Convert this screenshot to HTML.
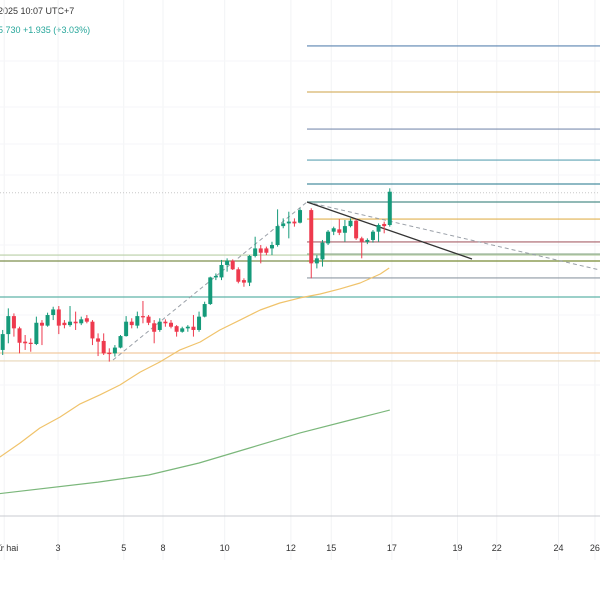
<!DOCTYPE html>
<html><head><meta charset="utf-8"><style>
html,body{margin:0;padding:0;background:#fff;width:600px;height:600px;overflow:hidden}
svg{display:block;font-family:"Liberation Sans","Noto Sans CJK SC",sans-serif}
</style></head><body>
<svg id="chart" width="600" height="600">
<text x="-2" y="14" font-size="9" fill="#333">2025 10:07 UTC+7</text>
<text x="-2" y="33" font-size="9" fill="#26a69a">5.730  +1.935 (+3.03%)</text>
</svg>
<script>
const opens  = [56.90,57.78,58.78,58.10,57.36,57.30,57.23,58.41,58.25,58.84,59.15,58.41,58.28,58.47,58.38,58.66,58.47,57.54,57.40,56.75,56.71,57.03,57.67,58.47,58.25,58.78,58.75,58.38,58.01,58.47,58.41,58.22,57.91,58.10,58.19,58.01,58.75,59.45,60.93,60.93,61.62,61.86,61.38,60.78,60.64,62.12,62.54,62.54,62.54,62.73,63.78,63.93,64.03,63.97,64.67,61.71,61.93,62.82,63.47,63.60,63.41,63.78,64.08,63.10,62.91,63.01,63.47,63.90,63.84];
const highs  = [58.01,59.21,58.93,58.19,57.73,57.54,58.75,58.56,58.97,59.30,59.34,58.56,59.34,59.03,58.75,58.84,58.56,57.82,57.82,56.99,57.17,57.73,58.78,58.66,59.03,59.62,58.84,58.56,58.66,58.60,58.56,58.28,58.19,58.28,58.84,59.03,59.58,60.97,61.15,61.90,61.99,61.93,61.49,60.88,62.17,63.19,62.73,62.64,62.91,64.71,64.21,64.58,64.21,64.77,64.77,62.17,63.01,63.56,63.75,64.16,64.12,64.21,64.16,63.19,63.10,63.56,63.93,64.03,65.88];
const lows   = [56.62,57.27,57.64,56.71,56.90,56.80,57.17,57.17,58.19,58.56,57.78,58.10,58.19,58.01,58.28,58.38,57.17,56.56,56.62,56.25,56.53,56.99,57.64,58.10,58.10,58.38,58.28,57.27,57.91,58.19,58.10,57.64,57.86,57.91,57.64,57.91,58.71,59.40,60.78,60.78,61.25,61.34,60.60,60.41,60.45,62.04,61.71,62.17,62.17,62.64,63.66,63.10,63.75,63.93,60.88,61.43,61.53,62.73,63.28,63.28,62.91,63.71,63.01,61.99,62.78,62.86,62.91,63.38,63.75];
const closes = [57.78,58.78,58.10,57.30,57.27,57.23,58.41,58.25,58.84,59.15,58.25,58.28,58.47,58.38,58.60,58.47,57.54,57.36,56.71,56.67,57.03,57.67,58.47,58.28,58.78,58.71,58.41,57.91,58.47,58.38,58.19,57.91,58.10,58.19,58.01,58.75,59.45,60.93,61.01,61.62,61.86,61.38,60.69,60.64,62.12,62.54,62.30,62.30,62.73,63.78,63.93,64.03,63.93,64.67,61.71,61.99,62.86,63.47,63.66,63.41,63.78,64.08,63.10,62.91,63.01,63.47,63.84,63.78,65.69];
const maSlowSlots = [-0.5,3.1,6.6,10.2,13.8,17.3,20.9,24.5,28,31.6,35.2,38.7,42.3,45.9,49.4,53,56.6,60.1,63.7,67.3,68.9];
const maSlowVals  = [50.95,51.73,52.56,53.17,53.90,54.40,54.95,55.67,56.23,56.90,57.34,58.01,58.56,59.12,59.51,59.79,60.01,60.29,60.62,61.12,61.45];
const maLongSlots = [-1,17,26,35,44,53,62,69];
const maLongVals  = [48.90,49.56,49.95,50.62,51.45,52.29,53.01,53.56];
const levelVals   = [73.79,71.23,69.17,67.45,66.12,65.12,64.17,62.90,62.23,61.84,60.90];
const levelColors = ["#5b84b1","#d8b46a","#7d8fb0","#5fa3b5","#4a8fa0","#4f8f8a","#e0b250","#a8626a","#9ab59a","#8a9a50","#8f9aa5"];
const fullLevelVals = [62.17,61.84,59.84,56.73,56.29];
const fullLevelColors = ["#b9cfa6","#7e8f4e","#5fb3a9","#f2c9a0","#e8d6b8"];
const xLabels = ["thứ hai","3","5","8","10","12","15","17","19","22","24","26"];
const xLabelSlots = [-0.8,8.8,20.5,27.5,38.5,50.3,57.5,68.3,80,87,98,104.5];

const svg = document.getElementById('chart');
const NS = 'http://www.w3.org/2000/svg';
const X0 = 2.7, DX = 5.61;
function xs(slot){ return X0 + slot*DX; }
function ys(p){ return 191 + (65.73 - p)*18; }
function slotOf(i){ return i + (i >= 54 ? 1 : 0); }
function mk(tag, attrs){ const e = document.createElementNS(NS, tag); for (const k in attrs) e.setAttribute(k, attrs[k]); svg.appendChild(e); return e; }

xLabelSlots.forEach((s) => {
  const g = mk('line', {x1: xs(s)+6, x2: xs(s)+6, y1: 0, y2: 560, stroke: '#f2f3f5', 'stroke-width': 1});
  
  
});
[61,107,144,175,245,315,385,455].forEach(y => {
  const g = mk('line', {x1: 0, x2: 600, y1: y, y2: y, stroke: '#f5f6f8', 'stroke-width': 1});
  
  
});

fullLevelVals.forEach((v, i) => {
  const l = mk('line', {x1: 0, x2: 600, y1: ys(v), y2: ys(v), stroke: fullLevelColors[i], 'stroke-width': 1.2});
  
  
});
levelVals.forEach((v, i) => {
  const l = mk('line', {x1: 307, x2: 600, y1: ys(v), y2: ys(v), stroke: levelColors[i], 'stroke-width': 1.2});
  
  
});
const cp = mk('line', {x1: 0, x2: 600, y1: ys(closes[closes.length-1])+1, y2: ys(closes[closes.length-1])+1, stroke: '#c8c8c8', 'stroke-width': 1, 'stroke-dasharray': '1,2'});



function maPath(slots, vals){ return slots.map((s,i)=>(i?'L':'M')+xs(s).toFixed(1)+','+ys(vals[i]).toFixed(1)).join(' '); }
const ma1 = mk('path', {d: maPath(maSlowSlots, maSlowVals), fill: 'none', stroke: '#f0c36b', 'stroke-width': 1.2, 'stroke-linejoin': 'round'});


const ma2 = mk('path', {d: maPath(maLongSlots, maLongVals), fill: 'none', stroke: '#7bb77b', 'stroke-width': 1.2, 'stroke-linejoin': 'round'});



const d1 = mk('line', {x1: 113, y1: 360, x2: 307, y2: 202, stroke: '#9aa0a8', 'stroke-width': 1, 'stroke-dasharray': '4,3'});


const d2 = mk('line', {x1: 307, y1: 202, x2: 600, y2: 270, stroke: '#9aa0a8', 'stroke-width': 1, 'stroke-dasharray': '4,3'});


const d3 = mk('line', {x1: 307, y1: 202, x2: 472, y2: 259, stroke: '#333', 'stroke-width': 1.3});



opens.forEach((o, i) => {
  const c = closes[i], up = c >= o, col = up ? '#159a7a' : '#ee3a4e';
  const x = xs(slotOf(i));
  const w = mk('line', {x1: x, x2: x, y1: ys(highs[i]), y2: ys(lows[i]), stroke: col, 'stroke-width': 1});
  
  
  const top = ys(Math.max(o, c)), bot = ys(Math.min(o, c));
  const b = mk('rect', {x: x-2, y: top, width: 4, height: Math.max(1, bot-top), fill: col});
  
  
});

const ax = mk('line', {x1: 0, x2: 600, y1: 516, y2: 516, stroke: '#c8cbd0', 'stroke-width': 1});


xLabels.forEach((t, i) => {
  const e = mk('text', {x: xs(xLabelSlots[i])+6, y: 551, 'font-size': 9, fill: '#333', 'text-anchor': 'middle'});
  e.textContent = t;
  
  
});
</script>
</body></html>
